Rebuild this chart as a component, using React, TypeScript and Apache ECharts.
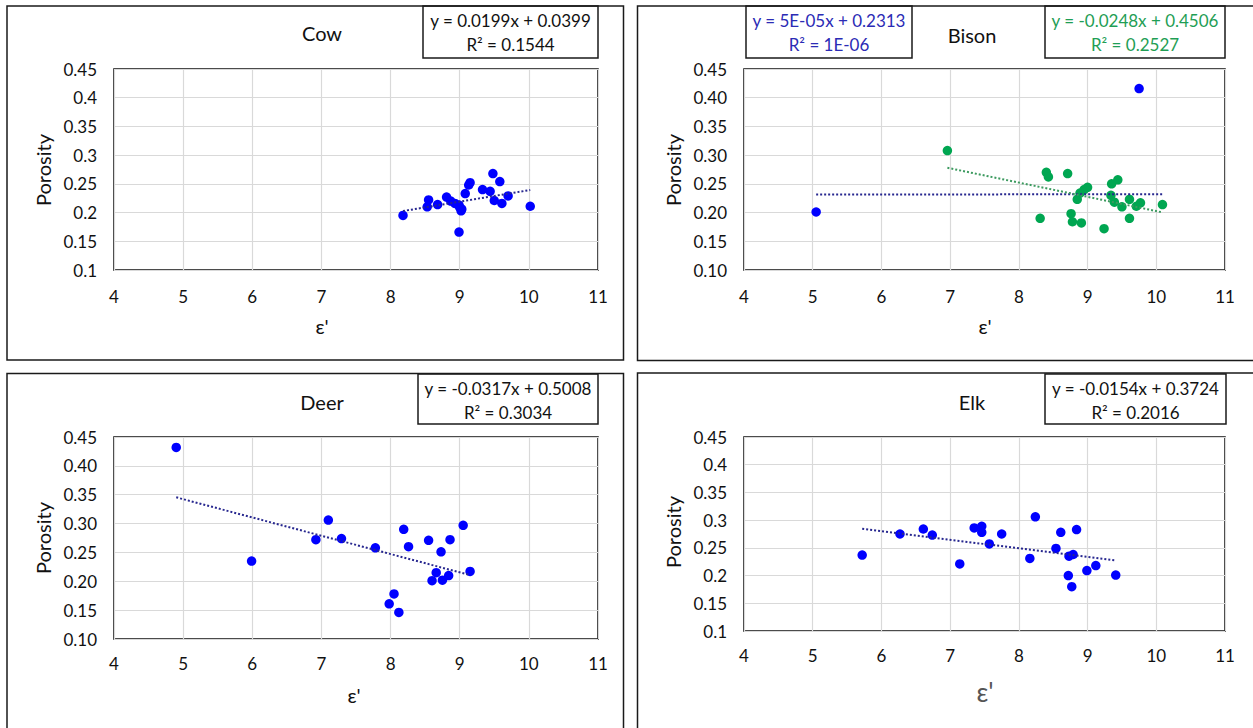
import React, { useEffect, useRef } from "react";
import * as echarts from "echarts";

// ---- data ----
const cowPoints: number[][] = [
  [8.18, 0.195], [8.55, 0.222], [8.53, 0.21], [8.68, 0.214], [8.81, 0.227], [8.87, 0.22],
  [8.93, 0.216], [8.99, 0.213], [9.0, 0.209], [9.02, 0.203], [9.03, 0.206], [8.99, 0.166],
  [9.08, 0.233], [9.13, 0.248], [9.15, 0.252], [9.33, 0.24], [9.44, 0.237], [9.48, 0.268],
  [9.58, 0.254], [9.5, 0.221], [9.61, 0.216], [9.7, 0.229], [10.02, 0.211],
];
const bisonBluePoints: number[][] = [[5.05, 0.201], [9.75, 0.416]];
const bisonGreenPoints: number[][] = [
  [6.96, 0.308], [8.4, 0.27], [8.43, 0.262], [8.71, 0.268], [8.31, 0.19], [8.76, 0.198],
  [8.78, 0.184], [8.91, 0.182], [9.24, 0.172], [9.61, 0.19], [8.85, 0.223], [8.89, 0.234],
  [8.95, 0.24], [9.0, 0.244], [9.35, 0.25], [9.44, 0.257], [9.34, 0.23], [9.39, 0.218],
  [9.5, 0.21], [9.61, 0.223], [9.71, 0.211], [9.77, 0.217], [10.09, 0.214],
];
const deerPoints: number[][] = [
  [4.9, 0.432], [5.99, 0.235], [6.92, 0.272], [7.1, 0.306], [7.29, 0.274], [7.78, 0.258],
  [8.19, 0.29], [8.26, 0.26], [8.55, 0.271], [8.73, 0.251], [8.86, 0.272], [9.05, 0.297],
  [9.15, 0.217], [8.66, 0.215], [8.6, 0.201], [8.75, 0.202], [8.84, 0.21], [8.05, 0.178],
  [7.98, 0.161], [8.12, 0.146],
];
const elkPoints: number[][] = [
  [5.72, 0.237], [6.27, 0.275], [6.61, 0.284], [6.74, 0.273], [7.14, 0.221], [7.35, 0.286],
  [7.46, 0.289], [7.46, 0.278], [7.57, 0.257], [7.75, 0.275], [8.16, 0.231], [8.24, 0.306],
  [8.54, 0.249], [8.61, 0.278], [8.84, 0.283], [8.73, 0.235], [8.79, 0.238], [8.72, 0.2],
  [8.77, 0.18], [8.99, 0.209], [9.12, 0.218], [9.41, 0.201],
];

// trendlines: slope, intercept, x range
const cowTrend = { slope: 0.0199, intercept: 0.0399, from: 8.18, to: 10.02 };
const bisonBlueTrend = { slope: 0.00005, intercept: 0.2313, from: 5.05, to: 10.09 };
const bisonGreenTrend = { slope: -0.0248, intercept: 0.4506, from: 6.96, to: 10.09 };
const deerTrend = { slope: -0.0317, intercept: 0.5008, from: 4.9, to: 9.15 };
const elkTrend = { slope: -0.0154, intercept: 0.3724, from: 5.72, to: 9.41 };

const titles = ["Cow", "Bison", "Deer", "Elk"];
const xMin = 4, xMax = 11, xStep = 1;
const yMin = 0.1, yMax = 0.45, yStep = 0.05;
const yFixed = [false, true, true, false];

const FONT = "Lato, 'Open Sans', sans-serif";
const BLUE = "#0000ff";
const GREEN = "#00a651";
const NAVY = "#27278f";
const DKGREEN = "#3c9a5f";
const INK = "#111111";

function trendData(t: { slope: number; intercept: number; from: number; to: number }) {
  return [
    [t.from, t.slope * t.from + t.intercept],
    [t.to, t.slope * t.to + t.intercept],
  ];
}

const grids = [
  { left: 114, top: 69, width: 484, height: 201 },
  { left: 744, top: 69, width: 481, height: 201 },
  { left: 114, top: 437, width: 484, height: 202 },
  { left: 744, top: 437, width: 481, height: 194 },
];

export default function App() {
  const ref = useRef<HTMLDivElement>(null);
  useEffect(() => {
    if (!ref.current) return;
    const chart = echarts.init(ref.current, null, { renderer: "svg" });

    const xAxis = grids.map((_, i) => ({
      type: "value",
      gridIndex: i,
      min: xMin,
      max: xMax,
      interval: xStep,
      axisLine: { show: false },
      axisTick: { show: false },
      axisLabel: { fontFamily: FONT, fontSize: 17, color: INK, margin: i >= 2 ? 16 : 18 },
      splitLine: { show: true, lineStyle: { color: "#d9d9d9", width: 1.2 } },
    }));
    const yAxis = grids.map((_, i) => ({
      type: "value",
      gridIndex: i,
      min: yMin,
      max: yMax,
      interval: yStep,
      axisLine: { show: false },
      axisTick: { show: false },
      axisLabel: {
        fontFamily: FONT,
        fontSize: 17,
        color: INK,
        margin: 17,
        formatter: (v: number) => (yFixed[i] ? v.toFixed(2) : String(parseFloat(v.toFixed(2)))),
      },
      splitLine: { show: true, lineStyle: { color: "#d9d9d9", width: 1.2 } },
    }));

    const scatter = (i: number, data: number[][], color: string) => ({
      type: "scatter",
      xAxisIndex: i,
      yAxisIndex: i,
      data,
      symbolSize: 9.5,
      itemStyle: { color, opacity: 1 },
      z: 3,
    });
    const trend = (i: number, t: any, color: string) => ({
      type: "line",
      xAxisIndex: i,
      yAxisIndex: i,
      data: trendData(t),
      symbol: "none",
      lineStyle: { color, width: 2, type: [2, 2] },
      z: 4,
    });

    const panelRect = (x: number, y: number, w: number, h: number) => ({
      type: "rect",
      shape: { x, y, width: w, height: h },
      style: { fill: "none", stroke: "#1a1a1a", lineWidth: 1.5 },
      silent: true,
    });
    const txt = (text: string, x: number, y: number, size: number, fill = INK, rotation = 0) => ({
      type: "text",
      x,
      y,
      rotation,
      style: { text, fill, font: `${size}px ${FONT}`, align: "center", verticalAlign: "middle" },
      silent: true,
    });
    const eqBox = (x: number, y: number, w: number, h: number, l1: string, l2: string, fill: string) => [
      panelRect(x, y, w, h),
      txt(l1, x + w / 2, y + 14, 17, fill),
      txt(l2, x + w / 2, y + 38, 17, fill),
    ];

    const graphic: any[] = [
      panelRect(7, 6, 616.5, 354),
      panelRect(637.5, 6, 640, 354.5),
      panelRect(7, 373.5, 616.5, 380),
      panelRect(637.5, 373, 640, 380),
      txt(titles[0], 322, 33, 20),
      txt(titles[1], 972, 35, 20),
      txt(titles[2], 322, 402, 20),
      txt(titles[3], 972, 402, 20),
      ...eqBox(423, 6, 175, 52, "y = 0.0199x + 0.0399", "R² = 0.1544", INK),
      ...eqBox(746, 6, 166, 52, "y = 5E-05x + 0.2313", "R² = 1E-06", "#2b2bb5"),
      ...eqBox(1045, 6, 180, 52, "y = -0.0248x + 0.4506", "R² = 0.2527", "#1f9e55"),
      ...eqBox(418, 374, 180, 50, "y = -0.0317x + 0.5008", "R² = 0.3034", INK),
      ...eqBox(1045, 374, 181, 50, "y = -0.0154x + 0.3724", "R² = 0.2016", INK),
      txt("Porosity", 43, 170, 20, INK, Math.PI / 2),
      txt("Porosity", 673, 170, 20, INK, Math.PI / 2),
      txt("Porosity", 43, 538, 20, INK, Math.PI / 2),
      txt("Porosity", 673, 532, 20, INK, Math.PI / 2),
      txt("ε'", 322, 326, 20),
      txt("ε'", 985, 326, 20),
      txt("ε'", 354, 695, 20),
      txt("ε'", 985, 692, 26, "#555"),
    ];

    chart.setOption({
      animation: false,
      backgroundColor: "#ffffff",
      grid: grids.map((g) => ({
        ...g,
        show: true,
        borderColor: "#111",
        borderWidth: 1.6,
        backgroundColor: "transparent",
      })),
      xAxis,
      yAxis,
      series: [
        scatter(0, cowPoints, BLUE),
        trend(0, cowTrend, NAVY),
        scatter(1, bisonBluePoints, BLUE),
        scatter(1, bisonGreenPoints, GREEN),
        trend(1, bisonBlueTrend, NAVY),
        trend(1, bisonGreenTrend, DKGREEN),
        scatter(2, deerPoints, BLUE),
        trend(2, deerTrend, NAVY),
        scatter(3, elkPoints, BLUE),
        trend(3, elkTrend, NAVY),
      ],
      graphic,
    });
    return () => chart.dispose();
  }, []);
  return (
    <div
      ref={ref}
      style={{ position: "absolute", left: 0, top: 0, width: 1253, height: 728, background: "#fff" }}
    />
  );
}
